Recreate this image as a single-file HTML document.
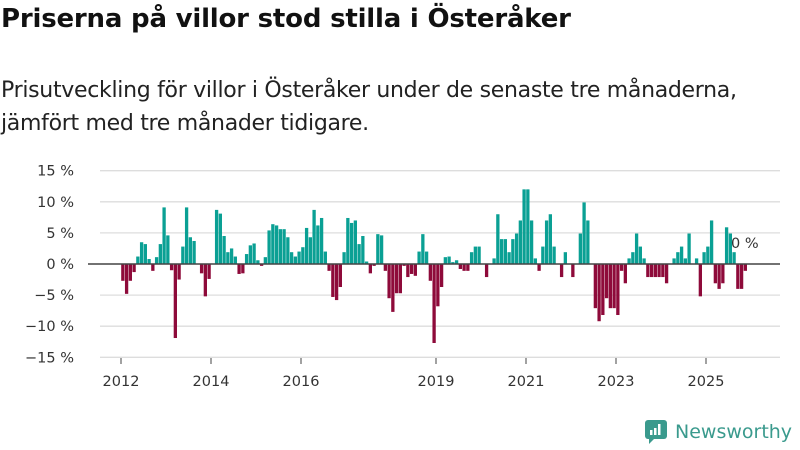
<!DOCTYPE html>
<html><head><meta charset="utf-8"><style>
body{margin:0;background:#fff;font-family:"DejaVu Sans","Liberation Sans",sans-serif;}
#wrap{position:relative;width:800px;height:450px;overflow:hidden;}
h1{position:absolute;left:1px;top:4px;margin:0;font-size:26px;font-weight:bold;color:#111;letter-spacing:-0.2px;}
.sub{position:absolute;left:1px;top:74px;margin:0;font-size:22px;line-height:33px;color:#222;letter-spacing:-0.3px;}
</style></head><body>
<div id="wrap">
<h1>Priserna på villor stod stilla i Österåker</h1>
<p class="sub">Prisutveckling för villor i Österåker under de senaste tre månaderna,<br>jämfört med tre månader tidigare.</p>
<svg id="chart" width="800" height="450" style="position:absolute;left:0;top:0"></svg>
<div style="position:absolute;left:645px;top:420px;display:flex;align-items:center;">
<svg width="22" height="24"><rect x="0" y="0" width="22" height="19" rx="3" fill="#3a9a8d"/><polygon points="4,18 10,18 4,24" fill="#3a9a8d"/><rect x="5" y="10" width="2.5" height="5" fill="#fff"/><rect x="9" y="8" width="2.5" height="7" fill="#fff"/><rect x="13" y="4" width="2.5" height="11" fill="#fff"/></svg>
<span style="margin-left:8px;font-size:19px;color:#3a9a8d;">Newsworthy</span>
</div>
</div>
<script>
const values=[-2.7,-4.8,-2.7,-1.3,1.2,3.5,3.2,0.8,-1.1,1.1,3.2,9.1,4.6,-1,-11.9,-2.5,2.8,9.1,4.3,3.7,0,-1.5,-5.2,-2.4,0,8.7,8.1,4.5,1.9,2.5,1.2,-1.6,-1.5,1.6,3.0,3.3,0.6,-0.3,1.1,5.4,6.4,6.2,5.6,5.6,4.3,1.9,1.2,2.0,2.7,5.8,4.3,8.7,6.2,7.4,2.0,-1.1,-5.3,-5.8,-3.7,1.9,7.4,6.6,7.0,3.2,4.5,0.4,-1.5,-0.3,4.8,4.6,-1.1,-5.5,-7.7,-4.7,-4.7,-0.3,-2.1,-1.6,-1.9,2.0,4.8,2.0,-2.7,-12.7,-6.8,-3.7,1.1,1.2,0.3,0.6,-0.8,-1.1,-1.1,1.9,2.8,2.8,0,-2.1,0,0.9,8.0,4.0,4.0,1.9,4.0,4.9,7.0,12.0,12.0,7.0,0.9,-1.1,2.8,7.0,8.0,2.8,0,-2.1,1.9,0,-2.1,0,4.9,9.9,7.0,0,-7.1,-9.2,-8.2,-5.5,-7.1,-7.1,-8.2,-1.1,-3.1,0.9,1.9,4.9,2.8,0.9,-2.1,-2.1,-2.1,-2.1,-2.1,-3.1,0,0.9,1.9,2.8,0.9,4.9,0,0.9,-5.2,1.9,2.8,7.0,-3.1,-4.0,-3.1,5.9,4.9,1.9,-4.0,-4.0,-1.1];
const startYear=2012;
const yTicks=[15,10,5,0,-5,-10,-15];
const yTickLabels=["15 %","10 %","5 %","0 %","−5 %","−10 %","−15 %"];
const xTicks=[2012,2014,2016,2019,2021,2023,2025];
const svg=document.getElementById('chart');
const NS='http://www.w3.org/2000/svg';
const FONT='DejaVu Sans, Liberation Sans, sans-serif';
const y=v=>264-v*6.22;
const x=t=>121+(t-startYear)*45;
function mk(tag,attrs){const e=document.createElementNS(NS,tag);for(const k in attrs)e.setAttribute(k,attrs[k]);svg.appendChild(e);return e;}
yTicks.forEach((t,i)=>{
  if(t!==0){const g=mk('line',{x1:100,x2:780,y1:y(t),y2:y(t),stroke:'#ddd','stroke-width':1.3});
  
  }
  const l=mk('text',{x:74,y:y(t)+5,'text-anchor':'end','font-size':14.5,fill:'#333','font-family':FONT});
  l.textContent=yTickLabels[i];
  
  
});
values.forEach((v,i)=>{
  const t=startYear+i/12;
  const r=mk('rect',{x:x(t)+0.2,y:v>=0?y(v):y(0),width:3.3,height:Math.abs(y(v)-y(0)),fill:v>=0?'#0aa094':'#8e0a3a'});
  
  
});
const z=mk('line',{x1:88,x2:780,y1:y(0),y2:y(0),stroke:'#444','stroke-width':1.6});


xTicks.forEach(t=>{
  const tk=mk('line',{x1:x(t),x2:x(t),y1:358,y2:364,stroke:'#444','stroke-width':1});
  
  
  const l=mk('text',{x:x(t),y:386,'text-anchor':'middle','font-size':14.5,fill:'#333','font-family':FONT});
  l.textContent=t;
  
  
});
const a=mk('text',{x:731,y:248,'font-size':14.5,fill:'#333','font-family':FONT});
a.textContent='0 %';


</script>
</body></html>
